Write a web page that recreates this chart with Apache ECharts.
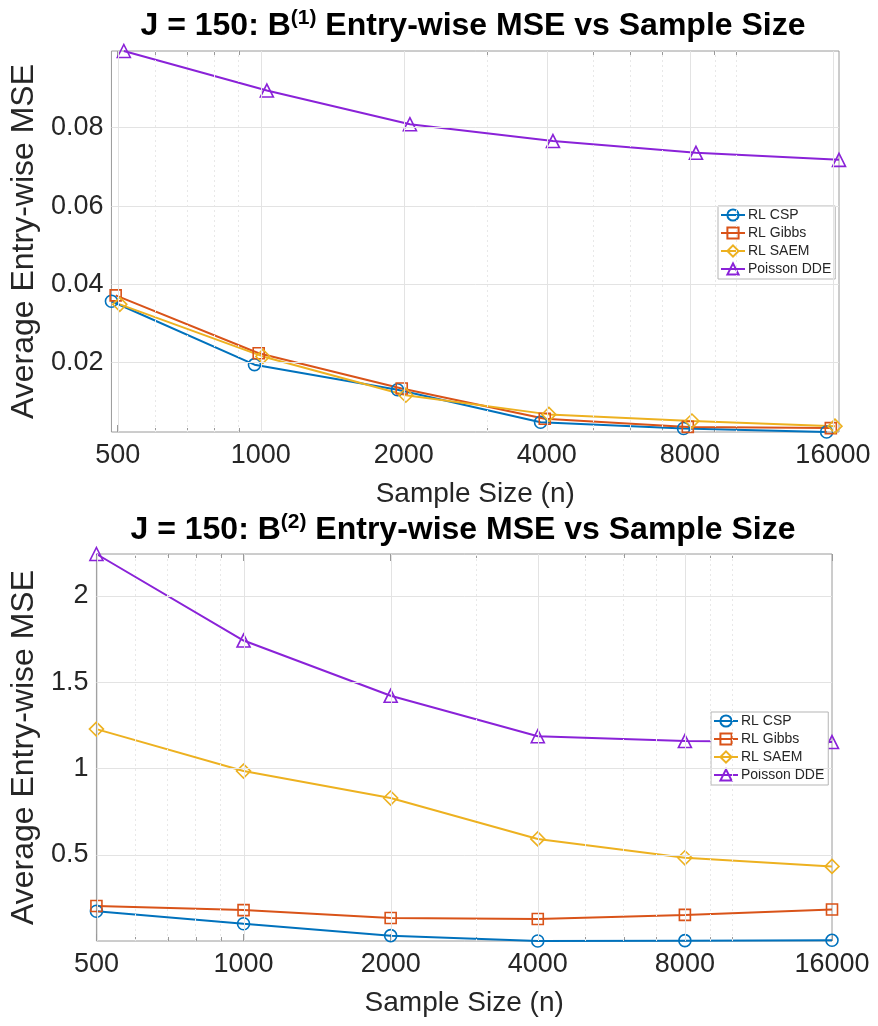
<!DOCTYPE html>
<html>
<head>
<meta charset="utf-8">
<script src="https://cdn.jsdelivr.net/npm/echarts@6/dist/echarts.min.js"></script>
<style>
html,body{margin:0;padding:0;background:#fff;}
#chart{width:878px;height:1026px;}
</style>
</head>
<body>
<div id="chart"></div>
<script>
// ---------- data ----------
const sampleSizes = [500, 1000, 2000, 4000, 8000, 16000];
const xTickLabels = ['500', '1000', '2000', '4000', '8000', '16000'];
const xMinorTicks = [600, 700, 800, 900, 3000, 5000, 6000, 7000, 9000, 10000];
const seriesNames = ['RL CSP', 'RL Gibbs', 'RL SAEM', 'Poisson DDE'];
// horizontal offsets used in the upper panel (multiplicative, per method)
const topJitter = [0.97, 0.99, 1.01, 1.03];

// Panel 1: B(1)
const b1_csp   = [0.0357, 0.0195, 0.0131, 0.0048, 0.0032, 0.0023];
const b1_gibbs = [0.0372, 0.0224, 0.0134, 0.0057, 0.0036, 0.0033];
const b1_saem  = [0.0349, 0.0216, 0.0117, 0.0068, 0.0051, 0.0038];
const b1_dde   = [0.0996, 0.0895, 0.0809, 0.0766, 0.0736, 0.0718];
const b1_yTicks = [0.02, 0.04, 0.06, 0.08];
const b1_yLabels = ['0.02', '0.04', '0.06', '0.08'];

// Panel 2: B(2)
const b2_csp   = [0.174, 0.102, 0.033, 0.002, 0.004, 0.006];
const b2_gibbs = [0.205, 0.181, 0.135, 0.129, 0.153, 0.184];
const b2_saem  = [1.229, 0.986, 0.830, 0.593, 0.484, 0.434];
const b2_dde   = [2.243, 1.742, 1.422, 1.188, 1.160, 1.154];
const b2_yTicks = [0.5, 1, 1.5, 2];
const b2_yLabels = ['0.5', '1', '1.5', '2'];

// ---------- style ----------
const colors = ['#0072BD', '#D95319', '#EDB120', '#8A22D8'];
const symbols = ['circle', 'rect', 'diamond', 'triangle'];
const symbolSizes = [12, 11, 14, 13];
const FONT = "'Liberation Sans', Arial, Helvetica, sans-serif";
const TXT = '#262626';
const AXC = '#9a9a9a';

const L2 = Math.log2;

function panel(gi, vals, yTicks, yLabels, xMin, xMax) {
  const all = [].concat(...vals);
  const yMin = Math.min(...all), yMax = Math.max(...all);
  const xMaj = sampleSizes.map(L2);
  const xMin2 = xMinorTicks.map(L2);
  const xAxes = [
    { gridIndex: gi, type: 'value', min: L2(xMin), max: L2(xMax), position: 'bottom',
      axisLine: { show: false }, splitLine: { show: false },
      axisTick: { show: true, inside: true, length: 7, customValues: xMaj, lineStyle: { color: AXC } },
      axisLabel: { show: true, customValues: xMaj, margin: 10, fontSize: 27, color: TXT, fontFamily: FONT,
        formatter: v => xTickLabels[sampleSizes.indexOf(Math.round(Math.pow(2, v)))] || '' },
      name: 'Sample Size (n)', nameLocation: 'middle', nameGap: 48,
      nameTextStyle: { fontSize: 28, color: TXT, fontFamily: FONT } },
    { gridIndex: gi, type: 'value', min: L2(xMin), max: L2(xMax), position: 'bottom',
      axisLine: { show: false }, splitLine: { show: false }, axisLabel: { show: false },
      axisTick: { show: true, inside: true, length: 4, customValues: xMin2, lineStyle: { color: AXC } } },
    { gridIndex: gi, type: 'value', min: L2(xMin), max: L2(xMax), position: 'top',
      axisLine: { show: false }, splitLine: { show: false }, axisLabel: { show: false },
      axisTick: { show: true, inside: true, length: 7, customValues: xMaj, lineStyle: { color: AXC } } },
    { gridIndex: gi, type: 'value', min: L2(xMin), max: L2(xMax), position: 'top',
      axisLine: { show: false }, splitLine: { show: false }, axisLabel: { show: false },
      axisTick: { show: true, inside: true, length: 4, customValues: xMin2, lineStyle: { color: AXC } } }
  ];
  const yAxes = [
    { gridIndex: gi, type: 'value', min: yMin, max: yMax, position: 'left',
      axisLine: { show: false }, splitLine: { show: false },
      axisTick: { show: true, inside: true, length: 7, customValues: yTicks, lineStyle: { color: AXC } },
      axisLabel: { show: true, customValues: yTicks, margin: 8, fontSize: 27, color: TXT, fontFamily: FONT,
        formatter: v => { const i = yTicks.findIndex(t => Math.abs(t - v) < 1e-9); return i >= 0 ? yLabels[i] : ''; } },
      name: 'Average Entry-wise MSE', nameLocation: 'middle', nameRotate: 90, nameGap: gi === 0 ? 66 : 52,
      nameTextStyle: { fontSize: 32, color: TXT, fontFamily: FONT } },
    { gridIndex: gi, type: 'value', min: yMin, max: yMax, position: 'right',
      axisLine: { show: false }, splitLine: { show: false }, axisLabel: { show: false },
      axisTick: { show: true, inside: true, length: 7, customValues: yTicks, lineStyle: { color: AXC } } }
  ];
  return { xAxes, yAxes, xMaj, xMin2 };
}

const P1 = panel(0, [b1_csp, b1_gibbs, b1_saem, b1_dde], b1_yTicks, b1_yLabels,
  sampleSizes[0] * topJitter[0], sampleSizes[sampleSizes.length - 1] * topJitter[3]);
const P2 = panel(1, [b2_csp, b2_gibbs, b2_saem, b2_dde], b2_yTicks, b2_yLabels,
  sampleSizes[0], sampleSizes[sampleSizes.length - 1]);

const xAxis = P1.xAxes.concat(P2.xAxes);   // 0..3 panel1, 4..7 panel2
const yAxis = P1.yAxes.concat(P2.yAxes);   // 0..1 panel1, 2..3 panel2

function gridSeries(P, xi, yi, yTicks) {
  return {
    type: 'line', xAxisIndex: xi, yAxisIndex: yi, silent: true, z: 1,
    data: [], symbol: 'none', lineStyle: { opacity: 0 },
    markLine: {
      silent: true, symbol: ['none', 'none'], label: { show: false }, animation: false,
      data: [].concat(
        P.xMaj.map(v => ({ xAxis: v, lineStyle: { color: '#e3e3e3', width: 1, type: 'solid' } })),
        P.xMin2.map(v => ({ xAxis: v, lineStyle: { color: '#e8e8e8', width: 1, type: [2, 3] } })),
        yTicks.map(v => ({ yAxis: v, lineStyle: { color: '#e3e3e3', width: 1, type: 'solid' } }))
      )
    }
  };
}

function dataSeries(vals, jitter, xi, yi) {
  return vals.map((arr, k) => ({
    name: seriesNames[k], type: 'line', xAxisIndex: xi, yAxisIndex: yi, z: 3, clip: false,
    data: arr.map((v, i) => [L2(sampleSizes[i] * (jitter ? jitter[k] : 1)), v]),
    symbol: symbols[k], symbolSize: symbolSizes[k], showAllSymbol: true,
    lineStyle: { color: colors[k], width: 2 },
    itemStyle: { color: 'rgba(255,255,255,0)', borderColor: colors[k], borderWidth: 1.6 },
    emphasis: { disabled: true }, animation: false
  }));
}

const series = [
  gridSeries(P1, 0, 0, b1_yTicks),
  gridSeries(P2, 4, 2, b2_yTicks)
].concat(
  dataSeries([b1_csp, b1_gibbs, b1_saem, b1_dde], topJitter, 0, 0),
  dataSeries([b2_csp, b2_gibbs, b2_saem, b2_dde], null, 4, 2)
);

const legendCommon = {
  orient: 'vertical', data: seriesNames, itemWidth: 24, itemHeight: 14, itemGap: 4,
  backgroundColor: '#fff', borderColor: '#b5b5b5', borderWidth: 1,
  padding: [2, 4, 3, 2], selectedMode: false,
  textStyle: { fontSize: 14, color: TXT, fontFamily: FONT, padding: [0, 0, 0, -2] }
};

const titleRich = {
  a: { fontSize: 32, fontWeight: 'bold', fontFamily: FONT, color: '#000', lineHeight: 36 },
  s: { fontSize: 21, fontWeight: 'bold', fontFamily: FONT, color: '#000', verticalAlign: 'top', lineHeight: 18 }
};

const option = {
  backgroundColor: '#fff',
  animation: false,
  grid: [
    { left: 108, top: 51, width: 731, height: 381, show: true, borderColor: AXC, borderWidth: 1, backgroundColor: 'transparent' },
    { left: 94, top: 554, width: 738, height: 387, show: true, borderColor: AXC, borderWidth: 1, backgroundColor: 'transparent' }
  ],
  xAxis, yAxis, series,
  legend: [
    Object.assign({}, legendCommon, { left: 718, top: 206 }),
    Object.assign({}, legendCommon, { left: 711, top: 712 })
  ],
  graphic: [
    { type: 'text', x: 473, y: 26, z: 10,
      style: { text: '{a|J = 150: B}{s|(1)}{a| Entry-wise MSE vs Sample Size}', rich: titleRich,
               textAlign: 'center', textVerticalAlign: 'middle', align: 'center', verticalAlign: 'middle' } },
    { type: 'text', x: 463, y: 530, z: 10,
      style: { text: '{a|J = 150: B}{s|(2)}{a| Entry-wise MSE vs Sample Size}', rich: titleRich,
               textAlign: 'center', textVerticalAlign: 'middle', align: 'center', verticalAlign: 'middle' } }
  ]
};

const chart = echarts.init(document.getElementById('chart'), null, { renderer: 'canvas' });
chart.setOption(option);
</script>
</body>
</html>
